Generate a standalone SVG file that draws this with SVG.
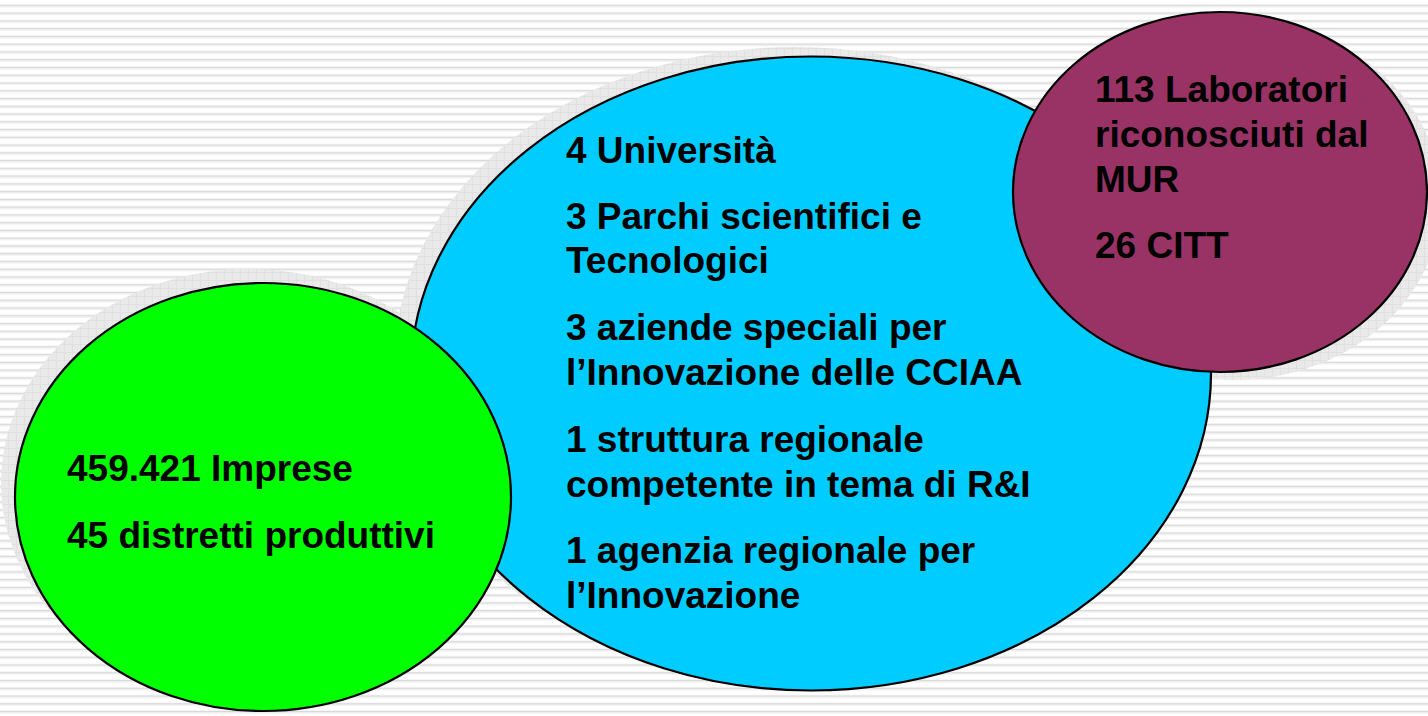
<svg xmlns="http://www.w3.org/2000/svg" width="1428" height="716" viewBox="0 0 1428 716">
<defs>
<pattern id="stripes" x="0" y="0" width="1428" height="7.76" patternUnits="userSpaceOnUse">
<rect x="0" y="0" width="1428" height="7.76" fill="#ffffff"/>
<rect x="0" y="4.6" width="1428" height="1.3" fill="#d9d9d9"/>
<rect x="0" y="5.9" width="1428" height="1.3" fill="#ececec"/>
</pattern>
<pattern id="shade" x="0" y="0" width="8" height="8" patternUnits="userSpaceOnUse">
<rect width="8" height="8" fill="#e9e9e9"/>
<rect x="0" y="0" width="8" height="1" fill="#e0e0e0"/>
<rect x="0" y="0" width="1" height="8" fill="#e0e0e0"/>
</pattern>
<style>
.blob{stroke:#000000;stroke-width:2.2}
.shadow{fill:url(#shade);stroke:none}
.t{font-family:"Liberation Sans",Arial,sans-serif;font-weight:bold;font-size:37px;fill:#000000}
</style>
</defs>
<rect x="0" y="0" width="1428" height="716" fill="url(#stripes)"/>
<g id="shadows">
<ellipse class="shadow" cx="795" cy="364" rx="401" ry="317"/>
<ellipse class="shadow" cx="249" cy="483" rx="248" ry="214"/>
<ellipse class="shadow" cx="1234" cy="200" rx="207" ry="180"/>
</g>
<g id="node-istituzioni">
<ellipse class="blob" cx="811" cy="373.5" rx="400" ry="317" fill="#00ccff"/>
<text class="t" x="566" y="163">4 Università</text>
<text class="t" x="566" y="229">3 Parchi scientifici e</text>
<text class="t" x="566" y="273">Tecnologici</text>
<text class="t" x="566" y="340">3 aziende speciali per</text>
<text class="t" x="566" y="385">l’Innovazione delle CCIAA</text>
<text class="t" x="566" y="452">1 struttura regionale</text>
<text class="t" x="566" y="497">competente in tema di R&amp;I</text>
<text class="t" x="566" y="563">1 agenzia regionale per</text>
<text class="t" x="566" y="608">l’Innovazione</text>
</g>
<g id="node-imprese">
<ellipse class="blob" cx="263" cy="497" rx="248" ry="214" fill="#00ff00"/>
<text class="t" x="67" y="481">459.421 Imprese</text>
<text class="t" x="67" y="548">45 distretti produttivi</text>
</g>
<g id="node-laboratori">
<ellipse class="blob" cx="1220" cy="192" rx="207" ry="180" fill="#993366"/>
<text class="t" x="1095" y="102">113 Laboratori</text>
<text class="t" x="1095" y="147">riconosciuti dal</text>
<text class="t" x="1095" y="192">MUR</text>
<text class="t" x="1095" y="258">26 CITT</text>
</g>
<g id="connectors"></g>
</svg>
